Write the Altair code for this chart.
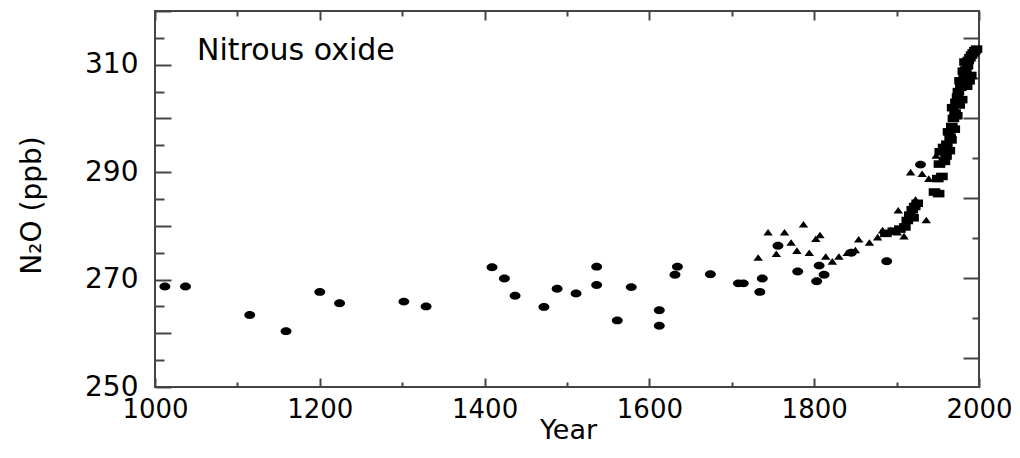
import altair as alt
import pandas as pd

# ---- data ----
circle_years = [1012, 1037, 1115, 1159, 1200, 1224, 1302, 1329, 1409, 1424, 1437, 1472, 1488, 1511, 1536, 1536,
                1561, 1578, 1612, 1612, 1631, 1634, 1674, 1708, 1714, 1734, 1737, 1756, 1780, 1803, 1806, 1812,
                1845, 1888, 1929]
circle_vals = [268.7, 268.7, 263.4, 260.4, 267.7, 265.6, 265.9, 265.0, 272.3, 270.2, 267.0, 264.9, 268.3, 267.4, 272.4, 269.0,
               262.4, 268.6, 264.3, 261.4, 270.9, 272.4, 271.0, 269.3, 269.3, 267.7, 270.2, 276.3, 271.5, 269.7, 272.6, 270.9,
               275.0, 273.4, 291.4]

tri_years = [1732, 1744, 1754, 1764, 1772, 1779, 1787, 1794, 1802, 1807, 1814, 1822, 1830, 1840, 1850, 1854,
             1867, 1877, 1883, 1893, 1901, 1909, 1902, 1917, 1923, 1931, 1936, 1939, 1948]
tri_vals = [274.1, 278.8, 274.8, 278.8, 276.9, 275.4, 280.3, 275.0, 277.6, 278.3, 274.3, 273.4, 274.3, 275.0, 275.5, 277.5,
            276.9, 277.9, 279.2, 279.2, 278.8, 278.1, 282.9, 290.0, 284.9, 289.7, 281.1, 288.8, 293.1]

sq_years = [1887, 1896, 1904, 1910, 1913, 1916, 1919, 1922, 1925, 1920, 1946, 1951, 1950, 1955, 1952, 1958,
            1953, 1957, 1960, 1961, 1964, 1965, 1966, 1963, 1967, 1970, 1969, 1971, 1968, 1973, 1972, 1974,
            1976, 1975, 1979, 1978, 1980, 1977, 1982, 1985, 1981, 1984, 1988, 1986, 1983, 1990, 1987, 1989,
            1991, 1993, 1995, 1997]
sq_vals = [278.6, 279.0, 279.4, 279.8, 281.0, 282.0, 283.0, 283.6, 284.2, 281.5, 286.3, 286.0, 288.8, 289.2, 291.5, 292.0,
           293.8, 294.6, 293.0, 295.2, 294.0, 296.5, 296.0, 297.5, 298.5, 298.0, 300.0, 301.0, 302.0, 300.5, 303.0, 304.0,
           302.5, 305.0, 303.5, 305.8, 306.5, 307.0, 307.5, 306.0, 308.8, 309.0, 307.0, 309.8, 310.5, 308.0, 310.8, 311.3,
           311.8, 312.2, 312.6, 312.9]

x_label_values = [1000, 1200, 1400, 1600, 1800, 2000]
x_tick_values = list(range(1000, 2001, 100))
y_label_values = [250, 270, 290, 310]
y_tick_values = list(range(250, 321, 5))
right_tick_values = list(range(0, 9))
panel_label = ["Nitrous oxide"]

# ---- styling ----
W, H = 824, 376
FONT = "DejaVu Sans"
AX = "#444444"
ELLIPSE = "M-1,0A1,0.72 0 1,1 1,0A1,0.72 0 1,1 -1,0Z"
TRI = "M0,-0.7L1,0.7L-1,0.7Z"
RECT = "M-1,-0.65L1,-0.65L1,0.65L-1,0.65Z"

xs = alt.Scale(domain=[1000, 2000], nice=False, zero=False)
ys = alt.Scale(domain=[250, 320], nice=False, zero=False)

circ_df = pd.DataFrame({"year": circle_years, "n2o": circle_vals})
tri_df = pd.DataFrame({"year": tri_years, "n2o": tri_vals})
sq_df = pd.DataFrame({"year": sq_years, "n2o": sq_vals})
rt_df = pd.DataFrame({"rf": right_tick_values})
lbl_df = pd.DataFrame({"label": panel_label})


def tick_axis(orient, offset, values, test, major, minor):
    return alt.Axis(orient=orient, offset=offset, values=values, labels=False, domain=False, grid=False,
                    title=None, ticks=True, tickColor=AX, tickWidth=2,
                    tickSize={"condition": {"test": test, "value": major}, "value": minor})


x_main_axis = alt.Axis(orient="bottom", values=x_label_values, format="d", labelFont=FONT, labelFontSize=26,
                       labelColor="black", labelBaseline="alphabetic", labelPadding=30, labelFlush=False,
                       labelOverlap=False, ticks=False, domain=False, grid=False,
                       title="Year", titleFont=FONT, titleFontSize=27, titleFontWeight="normal",
                       titleColor="black", titleX=413, titleY=51, titleAlign="center",
                       titleBaseline="alphabetic")
y_main_axis = alt.Axis(orient="left", values=y_label_values, format="d", labelFont=FONT, labelFontSize=28,
                       labelColor="black", labelPadding=17, labelFlush=False, labelOverlap=False,
                       labelBaseline="middle", ticks=False, domain=False, grid=False,
                       title="N₂O (ppb)", titleFont=FONT, titleFontSize=28, titleFontWeight="normal",
                       titleColor="black", titleAngle=270, titleX=-123, titleY=194, titleAlign="center",
                       titleBaseline="middle")

circles = alt.Chart(circ_df).mark_point(shape=ELLIPSE, filled=True, size=120, color="black", opacity=1).encode(
    x=alt.X("year:Q", scale=xs, axis=x_main_axis),
    y=alt.Y("n2o:Q", scale=ys, axis=y_main_axis),
)

tris = alt.Chart(tri_df).mark_point(shape=TRI, filled=True, size=90, color="black", opacity=1).encode(
    x=alt.X("year:Q", scale=xs, axis=tick_axis("top", -H, x_tick_values, "datum.value % 200 === 0", 9, 5)),
    y=alt.Y("n2o:Q", scale=ys, axis=tick_axis("right", -W, y_tick_values, "datum.value % 10 === 0", 16, 9)),
)

squares = alt.Chart(sq_df).mark_point(shape=RECT, filled=True, size=135, color="black", opacity=1).encode(
    x=alt.X("year:Q", scale=xs, axis=tick_axis("bottom", -H, x_tick_values, "datum.value % 200 === 0", 9, 5)),
    y=alt.Y("n2o:Q", scale=ys, axis=None),
)

right_ticks = alt.Chart(rt_df).mark_point(opacity=0).encode(
    y=alt.Y("rf:Q", scale=alt.Scale(domain=[-0.725, 8.667], nice=False, zero=False),
            axis=tick_axis("left", -W, right_tick_values, "datum.value % 2 === 0", 16, 7)),
)

label = alt.Chart(lbl_df).mark_text(align="left", baseline="alphabetic", font=FONT, fontSize=30,
                                     color="black").encode(
    text="label:N", x=alt.value(42), y=alt.value(49)
)

chart = alt.layer(circles, tris, squares, right_ticks, label).resolve_scale(
    y="independent"
).resolve_axis(
    x="independent", y="independent"
).properties(
    width=W, height=H,
    padding={"left": 147, "top": 3, "right": 33, "bottom": 58},
    autosize=alt.AutoSizeParams(type="none"),
).configure_view(stroke=AX, strokeWidth=2)

chart.save("out.html", embed_options={"renderer": "svg", "actions": False})
